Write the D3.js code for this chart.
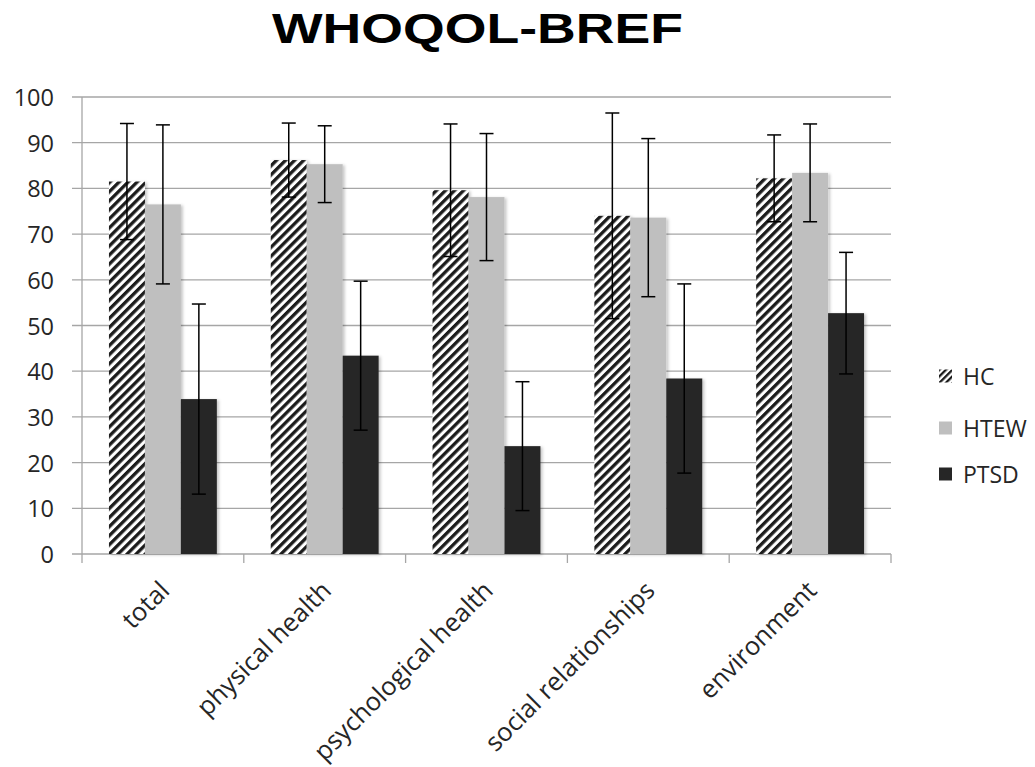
<!DOCTYPE html>
<html>
<head>
<meta charset="utf-8">
<script src="https://cdn.jsdelivr.net/npm/d3@7"></script>
<style>
  html, body { margin: 0; padding: 0; background: #fff; }
  svg { display: block; }
</style>
</head>
<body>
<svg id="chart" width="1035" height="767"></svg>
<script>
// ---- data ----
const categories = ["total", "physical health", "psychological health", "social relationships", "environment"];
const seriesNames = ["HC", "HTEW", "PTSD"];
const hcMean   = [81.5, 86.2, 79.6, 74.0, 82.2];
const hcSD     = [12.7,  8.1, 14.5, 22.5,  9.5];
const htewMean = [76.5, 85.3, 78.1, 73.6, 83.4];
const htewSD   = [17.4,  8.4, 13.9, 17.3, 10.7];
const ptsdMean = [33.9, 43.4, 23.6, 38.4, 52.7];
const ptsdSD   = [20.8, 16.3, 14.1, 20.7, 13.3];
const yTicks   = [0, 10, 20, 30, 40, 50, 60, 70, 80, 90, 100];
const title    = "WHOQOL-BREF";

(function () {
const means = [hcMean, htewMean, ptsdMean];
const sds = [hcSD, htewSD, ptsdSD];
const fills = ["url(#hatch)", "#bfbfbf", "#262626"];

const svg = d3.select("#chart");
const defs = svg.append("defs");

const pat = defs.append("pattern")
  .attr("id", "hatch").attr("patternUnits", "userSpaceOnUse")
  .attr("width", 6.4).attr("height", 6.4)
  .attr("patternTransform", "rotate(45)");
pat.append("rect").attr("width", 6.4).attr("height", 6.4).attr("fill", "#fff");
pat.append("rect").attr("x", 0).attr("y", 0).attr("width", 3.3).attr("height", 6.4)
  .attr("fill", "#1a1a1a");

const patL = defs.append("pattern")
  .attr("id", "hatchL").attr("patternUnits", "userSpaceOnUse")
  .attr("width", 4.6).attr("height", 4.6)
  .attr("patternTransform", "rotate(45)");
patL.append("rect").attr("width", 4.6).attr("height", 4.6).attr("fill", "#fff");
patL.append("rect").attr("x", 0).attr("y", 0).attr("width", 2.3).attr("height", 4.6)
  .attr("fill", "#1a1a1a");

const flt = defs.append("filter").attr("id", "shadow")
  .attr("x", "-20%").attr("y", "-5%").attr("width", "150%").attr("height", "115%");
flt.append("feDropShadow").attr("dx", 2).attr("dy", 1).attr("stdDeviation", 1.8)
  .attr("flood-color", "#000").attr("flood-opacity", 0.22);

const pLeft = 82, pRight = 891, pTop = 97, pBottom = 554;

const y = d3.scaleLinear().domain([0, 100]).range([pBottom, pTop]);
const x0 = d3.scaleBand().domain(categories).range([pLeft, pRight]).padding(0);
const x1 = d3.scaleBand().domain(seriesNames).range([0, x0.bandwidth()])
  .paddingInner(0).paddingOuter(0.75);

// gridlines
svg.append("g").selectAll("line").data(yTicks).join("line")
  .attr("x1", pLeft - 10).attr("x2", pRight)
  .attr("y1", d => y(d)).attr("y2", d => y(d))
  .attr("stroke", "#a6a6a6").attr("stroke-width", 1.3);

// y axis line
svg.append("line").attr("x1", pLeft).attr("x2", pLeft).attr("y1", pTop).attr("y2", pBottom)
  .attr("stroke", "#a6a6a6").attr("stroke-width", 1.3);

// y labels
svg.append("g").selectAll("text").data(yTicks).join("text")
  .attr("x", 54).attr("y", d => y(d))
  .attr("text-anchor", "end").attr("dominant-baseline", "central")
  .attr("font-family", "Open Sans").attr("font-size", 23.5).attr("fill", "#262626")
  .text(d => d);

// category ticks
const catEdges = categories.map(c => x0(c)).concat([pRight]);
svg.append("g").selectAll("line").data(catEdges).join("line")
  .attr("x1", d => d).attr("x2", d => d).attr("y1", pBottom).attr("y2", pBottom + 9)
  .attr("stroke", "#a6a6a6").attr("stroke-width", 1.3);

// bars
const barData = [];
categories.forEach((c, i) => {
  seriesNames.forEach((s, j) => {
    barData.push({ c, s, j, v: means[j][i], sd: sds[j][i] });
  });
});

svg.append("g").selectAll("rect").data(barData).join("rect")
  .attr("x", d => x0(d.c) + x1(d.s))
  .attr("width", x1.bandwidth())
  .attr("y", d => y(d.v))
  .attr("height", d => y(0) - y(d.v))
  .attr("fill", d => fills[d.j])
  .attr("filter", "url(#shadow)");

// error bars
const eg = svg.append("g").attr("stroke", "#000").attr("stroke-width", 1.5);
barData.forEach(d => {
  const cx = x0(d.c) + x1(d.s) + x1.bandwidth() / 2;
  eg.append("line").attr("x1", cx).attr("x2", cx).attr("y1", y(d.v + d.sd)).attr("y2", y(d.v - d.sd));
  eg.append("line").attr("x1", cx - 7).attr("x2", cx + 7).attr("y1", y(d.v + d.sd)).attr("y2", y(d.v + d.sd));
  eg.append("line").attr("x1", cx - 7).attr("x2", cx + 7).attr("y1", y(d.v - d.sd)).attr("y2", y(d.v - d.sd));
});

// category labels
svg.append("g").selectAll("text").data(categories).join("text")
  .attr("transform", d => `translate(${x0(d) + x0.bandwidth() / 2 + 1},${pBottom + 31}) rotate(-45)`)
  .attr("text-anchor", "end").attr("dominant-baseline", "central")
  .attr("font-family", "Open Sans").attr("font-size", 25.5).attr("fill", "#262626")
  .text(d => d);

// title
svg.append("text").attr("x", 477.5).attr("y", 43)
  .attr("text-anchor", "middle")
  .attr("font-family", "Liberation Sans").attr("font-weight", "bold")
  .attr("font-size", 42).attr("fill", "#000")
  .attr("textLength", 411).attr("lengthAdjust", "spacingAndGlyphs")
  .text(title);

// legend
const legY = [376, 428, 474];
const legFills = ["url(#hatchL)", "#bfbfbf", "#262626"];
const lg = svg.append("g");
seriesNames.forEach((s, j) => {
  lg.append("rect").attr("x", 939).attr("y", legY[j] - 6.5).attr("width", 13).attr("height", 13)
    .attr("fill", legFills[j]);
  lg.append("text").attr("x", 963).attr("y", legY[j])
    .attr("dominant-baseline", "central")
    .attr("font-family", "Open Sans").attr("font-size", 23).attr("fill", "#262626")
    .text(s);
});
})();
</script>
</body>
</html>
